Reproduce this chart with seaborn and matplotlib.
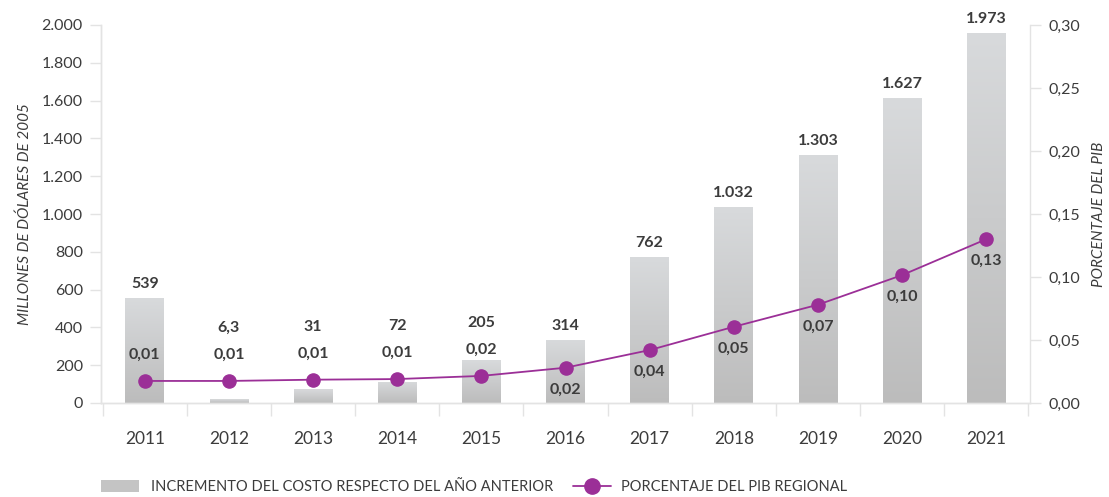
import numpy as np
import pandas as pd
import matplotlib
matplotlib.use('Agg')
import matplotlib.pyplot as plt
import seaborn as sns
from matplotlib.patches import Patch
from matplotlib.lines import Line2D
from matplotlib.ticker import FuncFormatter, FixedLocator

# datos
years = ['2011', '2012', '2013', '2014', '2015', '2016', '2017', '2018', '2019', '2020', '2021']
bar_heights = [555, 20, 72, 112, 225, 335, 772, 1038, 1312, 1613, 1960]
bar_labels = ['539', '6,3', '31', '72', '205', '314', '762', '1.032', '1.303', '1.627', '1.973']
pct_values = [0.0175, 0.0175, 0.0185, 0.019, 0.0215, 0.028, 0.042, 0.0605, 0.078, 0.1015, 0.130]
pct_labels = ['0,01', '0,01', '0,01', '0,01', '0,02', '0,02', '0,04', '0,05', '0,07', '0,10', '0,13']
pct_side = ['above'] * 5 + ['below'] * 6

df = pd.DataFrame({'year': years, 'cost': bar_heights, 'pct': pct_values})

purple = '#9b2f97'
txt = '#3c3c3c'
axis_col = '#e3e3e3'

sns.set_style('white')
plt.rcParams['font.family'] = ['Lato', 'DejaVu Sans']

fig = plt.figure(figsize=(11.09, 4.97), dpi=100)
ax = fig.add_axes([101 / 1109, 1 - 403 / 497, (1030 - 101) / 1109, (403 - 25) / 497])

sns.barplot(data=df, x='year', y='cost', ax=ax, color='#c8c9ca', width=0.46, saturation=1)

# degradado en cada barra
grad = np.linspace(0, 1, 256).reshape(-1, 1)
cmap = matplotlib.colors.LinearSegmentedColormap.from_list('g', ['#bcbcbc', '#d8dadc'])
for p in ax.patches:
    x0, y0 = p.get_x(), p.get_y()
    w, h = p.get_width(), p.get_height()
    im = ax.imshow(grad, cmap=cmap, aspect='auto', origin='lower',
                   extent=[x0, x0 + w, y0, y0 + h], zorder=2)
    im.set_clip_path(p)
    p.set_facecolor('none')

ax.set_xlim(-0.52, 10.52)
ax.set_ylim(0, 2000)
ax.set_yticks(np.arange(0, 2001, 200))
ax.yaxis.set_major_formatter(FuncFormatter(lambda v, _: f'{int(v):,}'.replace(',', '.')))
ax.set_xlabel('')
ax.set_ylabel('MILLONES DE DÓLARES DE 2005', fontsize=11, style='italic', color=txt, labelpad=7)

ax2 = ax.twinx()
sns.pointplot(data=df, x='year', y='pct', ax=ax2, color=purple, markers='o',
              markersize=9.5, linewidth=1.3, zorder=5)
ax2.set_xlim(-0.52, 10.52)
ax2.set_ylim(0, 0.30)
ax2.set_yticks(np.arange(0, 0.301, 0.05))
ax2.yaxis.set_major_formatter(FuncFormatter(lambda v, _: f'{v:.2f}'.replace('.', ',')))
ax2.set_xlabel('')
ax2.set_ylabel('PORCENTAJE DEL PIB', fontsize=11, style='italic', color=txt, labelpad=9)

for a in (ax, ax2):
    for s in a.spines.values():
        s.set_color(axis_col)
        s.set_linewidth(1)
    a.spines['top'].set_visible(False)
    a.tick_params(axis='y', colors=axis_col, labelcolor=txt, labelsize=11.5, length=8, width=1, pad=5)
    a.grid(False)

ax.spines['right'].set_visible(False)
ax.xaxis.set_minor_locator(FixedLocator(np.arange(-0.5, 10.6, 1)))
ax.tick_params(axis='x', which='major', length=0, labelsize=12.5, labelcolor=txt, pad=20)
ax.tick_params(axis='x', which='minor', length=9, width=1, color=axis_col, bottom=True)
ax2.tick_params(axis='x', length=0, labelbottom=False)

# etiquetas de valores
fig.canvas.draw()
inv = ax.transData.inverted()
for i in range(len(years)):
    mx, my = ax2.transData.transform((i, pct_values[i]))
    bx, by = ax.transData.transform((i, bar_heights[i]))
    if pct_side[i] == 'above':
        ax2.annotate(pct_labels[i], (i, pct_values[i]), xytext=(0, 26), textcoords='offset pixels',
                     ha='center', va='center', fontsize=11.5, fontweight='bold', color=txt)
        label_y = max(by + 14, my + 53)
    else:
        ax2.annotate(pct_labels[i], (i, pct_values[i]), xytext=(0, -22), textcoords='offset pixels',
                     ha='center', va='center', fontsize=11.5, fontweight='bold', color=txt)
        label_y = by + 14
    ax.text(i, inv.transform((bx, label_y))[1], bar_labels[i], ha='center', va='center',
            fontsize=11.5, fontweight='bold', color=txt)

# leyenda
h1 = [Patch(facecolor='#c4c4c4', edgecolor='none')]
h2 = [Line2D([0], [0], color=purple, lw=1.3, marker='o', markersize=11)]
leg1 = fig.legend(h1, ['INCREMENTO DEL COSTO RESPECTO DEL AÑO ANTERIOR'], loc='center left',
                  bbox_to_anchor=(88 / 1109, 1 - 487 / 497), frameon=False, fontsize=10.5,
                  handlelength=2.6, handleheight=0.9, handletextpad=0.8, labelcolor=txt)
leg2 = fig.legend(h2, ['PORCENTAJE DEL PIB REGIONAL'], loc='center left',
                  bbox_to_anchor=(560 / 1109, 1 - 487 / 497), frameon=False, fontsize=10.5,
                  handlelength=2.6, handletextpad=0.7, labelcolor=txt)

fig.savefig('out.png', dpi=100)
